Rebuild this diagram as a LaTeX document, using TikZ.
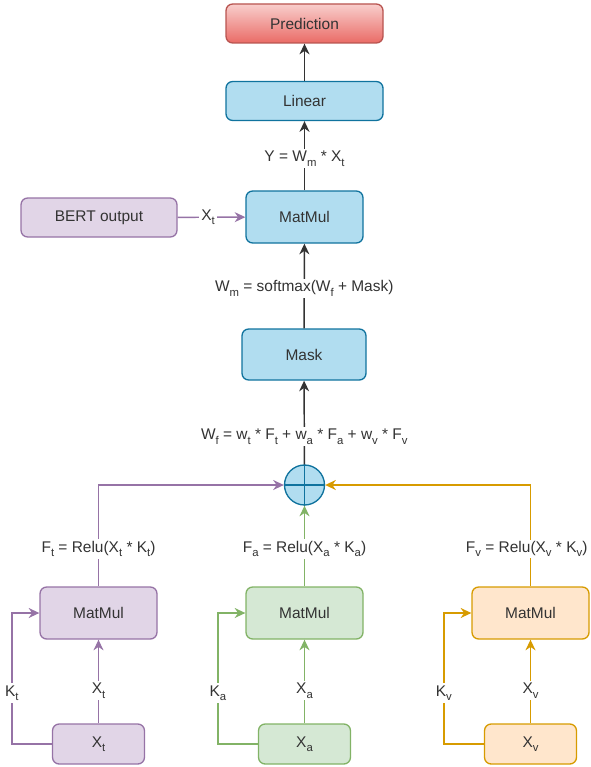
\documentclass[tikz,border=0pt]{standalone}
\usepackage{fontspec}
\setmainfont{Liberation Sans}
\usetikzlibrary{arrows.meta,calc,positioning}

\definecolor{blueFill}{HTML}{B1DDF0}
\definecolor{blueLine}{HTML}{10739E}
\definecolor{purpleFill}{HTML}{E1D5E7}
\definecolor{purpleLine}{HTML}{9673A6}
\definecolor{greenFill}{HTML}{D5E8D4}
\definecolor{greenLine}{HTML}{82B366}
\definecolor{orangeFill}{HTML}{FFE6CC}
\definecolor{orangeLine}{HTML}{D79B00}
\definecolor{redTop}{HTML}{F8CECC}
\definecolor{redBottom}{HTML}{EA6B66}
\definecolor{redLine}{HTML}{B85450}
\definecolor{inkGray}{HTML}{333333}

\newcommand{\lo}[1]{\raisebox{-0.55ex}{\fontsize{8.5}{9}\selectfont #1}}

\tikzset{
  box/.style={draw, rounded corners=5pt, line width=1pt, inner sep=0pt,
    minimum width=87.75pt, minimum height=39pt, text=inkGray},
  wide/.style={minimum width=117.75pt, minimum height=29.25pt},
  lbl/.style={fill=white, inner sep=1.5pt, text=inkGray},
  link/.style={line width=1.1pt, ->},
}

\begin{document}
\begin{tikzpicture}[x=0.75pt,y=-0.75pt,>={Stealth[length=8pt,width=7.5pt]},
  font=\fontsize{11.6}{14}\selectfont]
\useasboundingbox (0,0) rectangle (590,767);

% top column
\node[box, wide, draw=redLine, top color=redTop, bottom color=redBottom] (pred) at (304.5,23.5) {Prediction};
\node[box, wide, draw=blueLine, fill=blueFill] (linear) at (304.5,101) {Linear};
\node[box, draw=blueLine, fill=blueFill] (mm) at (304.5,217) {MatMul};
\node[box, wide, minimum width=117pt, draw=purpleLine, fill=purpleFill] (bert) at (99,217.5) {BERT output};
\node[box, minimum width=93pt, minimum height=38.25pt, draw=blueLine, fill=blueFill] (mask) at (304,354.5) {Mask};
\node[circle, draw=blueLine, fill=blueFill, line width=1pt, minimum size=30pt, inner sep=0pt] (sum) at (304.5,485) {};
\draw[blueLine, line width=1pt] (sum.north) -- (sum.south) (sum.west) -- (sum.east);

\draw[link, inkGray] (linear) -- (pred);
\draw[link, inkGray] (mm) -- node[lbl, pos=0.46] (ylbl) {Y = W\lo{m} * X\lo{t}} (linear);
\draw[link, inkGray] (mask) -- node[lbl, pos=0.47] (wmlbl) {W\lo{m} = softmax(W\lo{f} + Mask)} (mm);
\draw[link, inkGray] (sum) -- node[lbl, pos=0.33] (wflbl) {W\lo{f} = w\lo{t} * F\lo{t} + w\lo{a} * F\lo{a} + w\lo{v} * F\lo{v}} (mask);
\draw[link, purpleLine] (bert) -- node[lbl, pos=0.45] (btlbl) {X\lo{t}} (mm);

% three branches
\foreach \n/\x/\col in {t/98.5/purple, a/304.5/green, v/530.5/orange}{
  \node[box, draw=\col Line, fill=\col Fill] (mm\n) at (\x,613) {MatMul};
  \node[box, minimum width=69pt, minimum height=30pt, draw=\col Line, fill=\col Fill] (x\n) at (\x,744) {X\lo{\n}};
  \coordinate (loop\n) at ($(x\n.west)+(-40,0)$);
  \draw[link, \col Line] (x\n) -- node[lbl, pos=0.39] (xl\n) {X\lo{\n}} (mm\n);
  \draw[link, \col Line] (x\n.west) -- (loop\n) |- (mm\n.west);
  \node[lbl] (kl\n) at ($(loop\n)+(0,-51)$) {K\lo{\n}};
}
\draw[link, purpleLine] (mmt.north) |- (sum.west);
\draw[link, greenLine] (mma.north) -- (sum.south);
\draw[link, orangeLine] (mmv.north) |- (sum.east);
\node[lbl] (flt) at (98.5,549) {F\lo{t} = Relu(X\lo{t} * K\lo{t})};
\node[lbl] (fla) at (304.5,549) {F\lo{a} = Relu(X\lo{a} * K\lo{a})};
\node[lbl, anchor=east, inner sep=1pt] (flv) at (589,549) {F\lo{v} = Relu(X\lo{v} * K\lo{v})};
\end{tikzpicture}
\end{document}
